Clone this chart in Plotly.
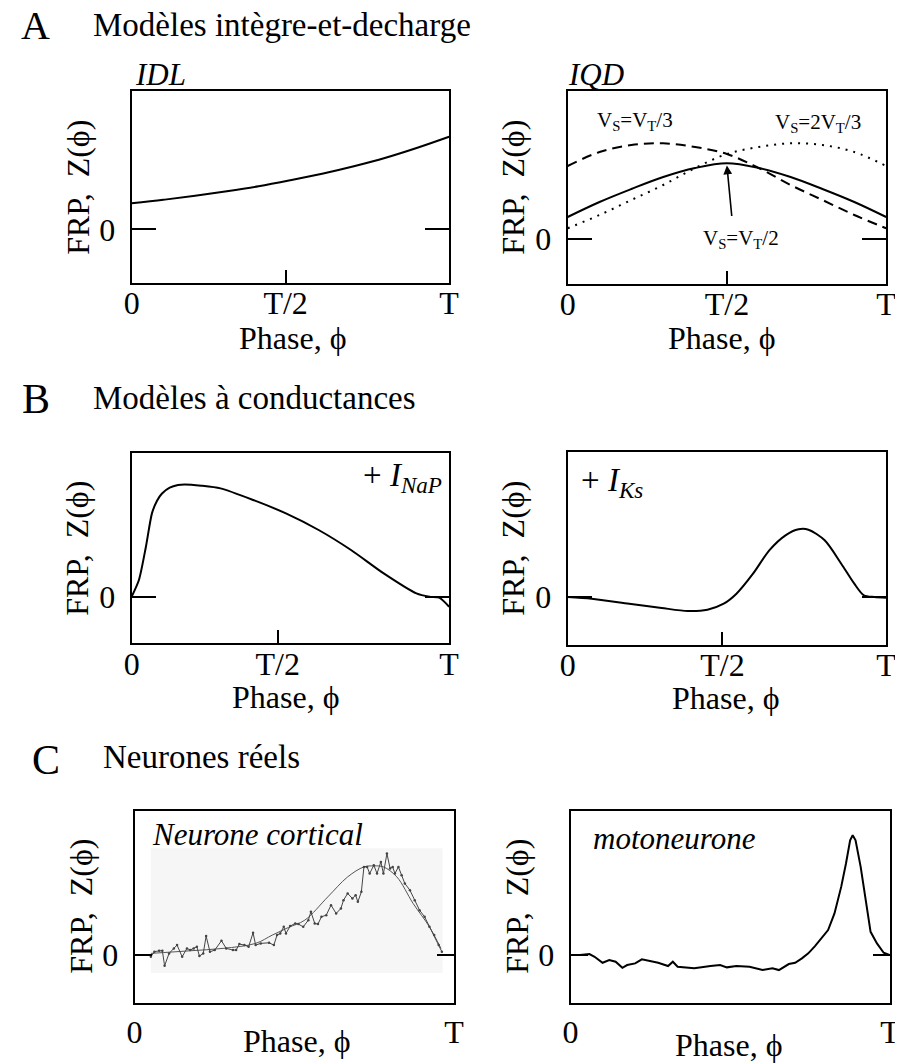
import plotly.graph_objects as go

# page body margin of the html page is 8px: the figure is drawn 8px in
OFF = 8
W, H = 903 - OFF, 1063 - OFF
SERIF = "Liberation Serif"

# ---------------- data (phase in periods, FRP in arbitrary units) ----------------
PHASE_IDL = [0.0, 0.1, 0.2, 0.3, 0.4, 0.5, 0.6, 0.7, 0.8, 0.9, 1.0]
Z_IDL = [0.26, 0.295, 0.335, 0.38, 0.43, 0.49, 0.555, 0.63, 0.715, 0.815, 0.925]

PHASE_IQD = [0.0, 0.1, 0.2, 0.3, 0.4, 0.5, 0.6, 0.7, 0.8, 0.9, 1.0]
Z_IQD_HALF = [0.22, 0.37, 0.50, 0.62, 0.71, 0.757, 0.71, 0.62, 0.50, 0.37, 0.22]
Z_IQD_THIRD = [0.73, 0.87, 0.94, 0.957, 0.92, 0.85, 0.71, 0.54, 0.39, 0.24, 0.107]
Z_IQD_TWOTHIRDS = [0.107, 0.24, 0.39, 0.54, 0.71, 0.85, 0.92, 0.957, 0.94, 0.87, 0.73]

PHASE_NAP = [0.0, 0.023, 0.045, 0.064, 0.08, 0.095, 0.12, 0.146, 0.167, 0.22, 0.28,
             0.383, 0.486, 0.589, 0.691, 0.794, 0.897, 0.938, 0.969, 1.0]
Z_NAP = [0.0, 0.167, 0.5, 0.833, 0.96, 1.03, 1.09, 1.117, 1.123, 1.11, 1.083,
         0.967, 0.833, 0.667, 0.467, 0.233, 0.033, 0.0, -0.01, -0.10]

PHASE_KS = [0.0, 0.075, 0.193, 0.295, 0.377, 0.439, 0.49, 0.53, 0.582, 0.633, 0.684,
            0.725, 0.756, 0.807, 0.859, 0.9, 0.93, 0.963, 1.0]
Z_KS = [0.0, -0.017, -0.067, -0.11, -0.14, -0.127, -0.067, 0.033, 0.233, 0.467, 0.617,
        0.677, 0.673, 0.567, 0.333, 0.133, 0.017, 0.0, -0.007]

PHASE_CORT = [0.051, 0.062, 0.077, 0.087, 0.094, 0.108, 0.123, 0.133, 0.149, 0.164,
              0.174, 0.185, 0.195, 0.203, 0.215, 0.224, 0.236, 0.251, 0.272, 0.287,
              0.308, 0.318, 0.328, 0.344, 0.357, 0.371, 0.379, 0.395, 0.421, 0.436,
              0.446, 0.456, 0.467, 0.474, 0.487, 0.503, 0.513, 0.528, 0.544, 0.552,
              0.564, 0.574, 0.585, 0.600, 0.615, 0.631, 0.646, 0.654, 0.667, 0.682,
              0.692, 0.699, 0.710, 0.718, 0.728, 0.736, 0.749, 0.759, 0.771, 0.779,
              0.790, 0.800, 0.808, 0.815, 0.826, 0.836, 0.846, 0.862, 0.877, 0.892,
              0.908, 0.923, 0.938, 0.952, 0.962]
Z_CORT = [-0.017, 0.033, 0.043, 0.043, -0.107, 0.017, 0.067, 0.100, -0.017, 0.067,
          0.050, 0.067, 0.083, -0.010, 0.017, 0.190, 0.033, 0.050, 0.143, 0.067,
          0.050, 0.050, 0.110, 0.100, 0.083, 0.223, 0.100, 0.117, 0.123, 0.100,
          0.200, 0.217, 0.283, 0.217, 0.290, 0.317, 0.310, 0.283, 0.350, 0.433,
          0.317, 0.310, 0.383, 0.400, 0.500, 0.417, 0.467, 0.550, 0.617, 0.567,
          0.600, 0.533, 0.633, 0.883, 0.883, 0.817, 0.900, 0.817, 0.933, 0.817,
          1.017, 0.867, 0.883, 0.817, 0.883, 0.800, 0.717, 0.650, 0.550, 0.450,
          0.383, 0.283, 0.200, 0.100, 0.033]

PHASE_CORT_FIT = [0.051, 0.174, 0.277, 0.379, 0.431, 0.482, 0.533, 0.605, 0.667,
                  0.718, 0.749, 0.779, 0.821, 0.872, 0.923, 0.959]
Z_CORT_FIT = [0.017, 0.043, 0.067, 0.117, 0.2, 0.277, 0.35, 0.583, 0.783,
              0.883, 0.893, 0.883, 0.783, 0.517, 0.283, 0.067]
CORT_SCAN_PHASE = [0.051, 0.964]
CORT_SCAN_Z = [-0.18, 1.07]

PHASE_MOTO = [0.0, 0.029, 0.059, 0.075, 0.1, 0.121, 0.141, 0.162, 0.177, 0.202,
              0.223, 0.243, 0.274, 0.305, 0.32, 0.335, 0.387, 0.438, 0.468, 0.489,
              0.519, 0.56, 0.601, 0.632, 0.652, 0.683, 0.703, 0.724, 0.744, 0.765,
              0.785, 0.806, 0.826, 0.847, 0.862, 0.875, 0.883, 0.892, 0.908, 0.923,
              0.939, 0.959, 0.98, 1.0]
Z_MOTO = [0.0, 0.0, 0.01, -0.017, -0.077, -0.05, -0.067, -0.127, -0.1, -0.083,
          -0.043, -0.057, -0.077, -0.11, -0.067, -0.117, -0.133, -0.11, -0.1, -0.123,
          -0.11, -0.117, -0.15, -0.133, -0.15, -0.09, -0.077, -0.033, 0.017, 0.09,
          0.167, 0.25, 0.417, 0.683, 0.917, 1.15, 1.2, 1.15, 0.883, 0.55,
          0.233, 0.117, 0.023, 0.0]

X_TICKS = [0, 0.5, 1]
X_TICKTEXT = ["0", "T/2", "T"]
X_TICKS_C = [0, 1]
X_TICKTEXT_C = ["0", "T"]

# ---------------- layout helpers (pixel positions measured on the page) ----------------
def dx(l, r):
    return [(l - OFF) / W, (r - OFF) / W]

def dy(t, b):
    return [1 - (b - OFF) / H, 1 - (t - OFF) / H]

fig = go.Figure()
AXFONT = dict(family=SERIF, size=32, color="black")

def xax(dom, tickvals, ticktext, half_pos=None, ticks=True, standoff=-9):
    tv = list(tickvals)
    if half_pos is not None:
        tv[1] = half_pos
    return dict(domain=dom, range=[0, 1], showline=True, linewidth=2, linecolor="black",
                mirror=True, ticks="inside" if ticks else "", ticklen=13, tickwidth=2,
                tickcolor="black", tickvals=tv, ticktext=ticktext, showgrid=False,
                zeroline=False, fixedrange=True, ticklabelstandoff=standoff,
                tickfont=AXFONT)

def yax(dom, rng, anchor, ticklen=24):
    return dict(domain=dom, range=rng, anchor=anchor, showline=True, linewidth=2,
                linecolor="black", mirror="ticks", ticks="inside", ticklen=ticklen,
                tickwidth=2, tickcolor="black", tickvals=[0], ticktext=["0"],
                showgrid=False, zeroline=False, fixedrange=True, ticklabelstandoff=8,
                tickfont=AXFONT)

panels = {
    1: dict(x=dx(126, 450), y=dy(91, 283), yr=[-0.537, 1.383]),
    2: dict(x=dx(571, 896), y=dy(91, 284), yr=[-0.45, 1.48]),
    3: dict(x=dx(126, 450), y=dy(452.7, 643.3), yr=[-0.466, 1.44]),
    4: dict(x=dx(571, 896), y=dy(452, 645), yr=[-0.48, 1.45]),
    5: dict(x=dx(129, 455), y=dy(811, 1003), yr=[-0.48, 1.443]),
    6: dict(x=dx(574, 900), y=dy(811, 1003), yr=[-0.48, 1.443]),
}
half_pos = {1: 0.485, 2: 0.5, 3: 0.46, 4: 0.486}

lay = {}
for i, p in panels.items():
    xs = "xaxis" if i == 1 else f"xaxis{i}"
    ys = "yaxis" if i == 1 else f"yaxis{i}"
    yname = "y" if i == 1 else f"y{i}"
    xname = "x" if i == 1 else f"x{i}"
    if i <= 4:
        lay[xs] = xax(p["x"], X_TICKS, X_TICKTEXT, half_pos[i])
    else:
        lay[xs] = xax(p["x"], X_TICKS_C, X_TICKTEXT_C, ticks=False, standoff=0)
    lay[xs]["anchor"] = yname
    lay[ys] = yax(p["y"], p["yr"], xname, ticklen=17 if i >= 5 else 24)

def ref(i):
    return ("x" if i == 1 else f"x{i}"), ("y" if i == 1 else f"y{i}")

def line(i, x, y, **kw):
    xr, yr = ref(i)
    fig.add_trace(go.Scatter(x=x, y=y, xaxis=xr, yaxis=yr, mode="lines",
                             showlegend=False, hoverinfo="skip", **kw))

BLACK = dict(color="black", width=2)
line(1, PHASE_IDL, Z_IDL, line=dict(**BLACK, shape="spline"))
line(2, PHASE_IQD, Z_IQD_THIRD, line=dict(color="black", width=2, dash="10px,6px", shape="spline"))
line(2, PHASE_IQD, Z_IQD_TWOTHIRDS, line=dict(color="black", width=2, dash="2px,6px", shape="spline"))
line(2, PHASE_IQD, Z_IQD_HALF, line=dict(**BLACK, shape="spline"))
line(3, PHASE_NAP, Z_NAP, line=dict(**BLACK, shape="spline", smoothing=0.7))
line(4, PHASE_KS, Z_KS, line=dict(**BLACK, shape="spline", smoothing=0.8))

# cortical neuron: scanned background, fit and noisy data
fig.add_shape(type="rect", xref="x5", yref="y5", x0=CORT_SCAN_PHASE[0], x1=CORT_SCAN_PHASE[1],
              y0=CORT_SCAN_Z[0], y1=CORT_SCAN_Z[1], fillcolor="#f6f6f6",
              line=dict(width=0), layer="below")
line(5, PHASE_CORT_FIT, Z_CORT_FIT, line=dict(color="#555555", width=1, shape="spline"))
xr5, yr5 = ref(5)
fig.add_trace(go.Scatter(x=PHASE_CORT, y=Z_CORT, xaxis=xr5, yaxis=yr5, mode="lines+markers",
                         line=dict(color="#444444", width=1), marker=dict(size=2.5, color="#444444"),
                         showlegend=False, hoverinfo="skip"))
line(6, PHASE_MOTO, Z_MOTO, line=dict(color="black", width=2))

# ---------------- text ----------------
ann = []

def txt(x, y, text, size=32, xanchor="center", yanchor="middle", angle=0, italic=False):
    if italic:
        text = f"<i>{text}</i>"
    ann.append(dict(x=(x - OFF) / W, y=1 - (y - OFF) / H, xref="paper", yref="paper", text=text,
                    showarrow=False, xanchor=xanchor, yanchor=yanchor, textangle=angle,
                    borderpad=0, font=dict(family=SERIF, size=size, color="black")))

# section headings
txt(28, 26, "A", size=40)
txt(86, 25, "Modèles intègre-et-decharge", size=33, xanchor="left")
txt(28, 399, "B", size=42)
txt(86, 398, "Modèles à conductances", size=33, xanchor="left")
txt(39, 760, "C", size=42)
txt(96, 757, "Neurones réels", size=33, xanchor="left")

# panel titles
txt(128, 75, "IDL", size=31, xanchor="left", italic=True)
txt(570, 75, "IQD", size=31, xanchor="left", italic=True)
txt(444, 478, "+ <i>I</i><sub><i>NaP</i></sub>", size=33, xanchor="right")
txt(584, 482, "+ <i>I</i><sub><i>Ks</i></sub>", size=33, xanchor="left")
txt(146, 834, "Neurone cortical", size=31, xanchor="left", italic=True)
txt(596, 838, "motoneurone", size=31, xanchor="left", italic=True)

# IQD curve labels
txt(600, 121, "V<sub>S</sub>=V<sub>T</sub>/3", size=21, xanchor="left")
txt(782, 123, "V<sub>S</sub>=2V<sub>T</sub>/3", size=21, xanchor="left")
txt(748, 239, "V<sub>S</sub>=V<sub>T</sub>/2", size=21)
ann.append(dict(x=0.5, y=0.735, xref="x2", yref="y2", ax=5, ay=52, axref="pixel", ayref="pixel",
                text="", showarrow=True, arrowhead=2, arrowsize=1.1, arrowwidth=1.6,
                arrowcolor="black", standoff=0))

# axis titles
for cx, cy in [(291, 338), (728, 338), (284, 697), (733, 698), (295, 1041), (736, 1045)]:
    txt(cx, cy, "Phase, ϕ", size=32)
for cx, cy in [(71, 187), (515, 187), (70, 548), (515, 548), (74, 906), (519, 906)]:
    txt(cx, cy, "FRP,  Z(ϕ)", size=32, angle=-90)

fig.update_layout(**lay)
fig.update_layout(width=W, height=H, margin=dict(l=0, r=0, t=0, b=0),
                  paper_bgcolor="white", plot_bgcolor="white", annotations=ann,
                  showlegend=False)

fig.write_html("out.html", config={"displayModeBar": False})
